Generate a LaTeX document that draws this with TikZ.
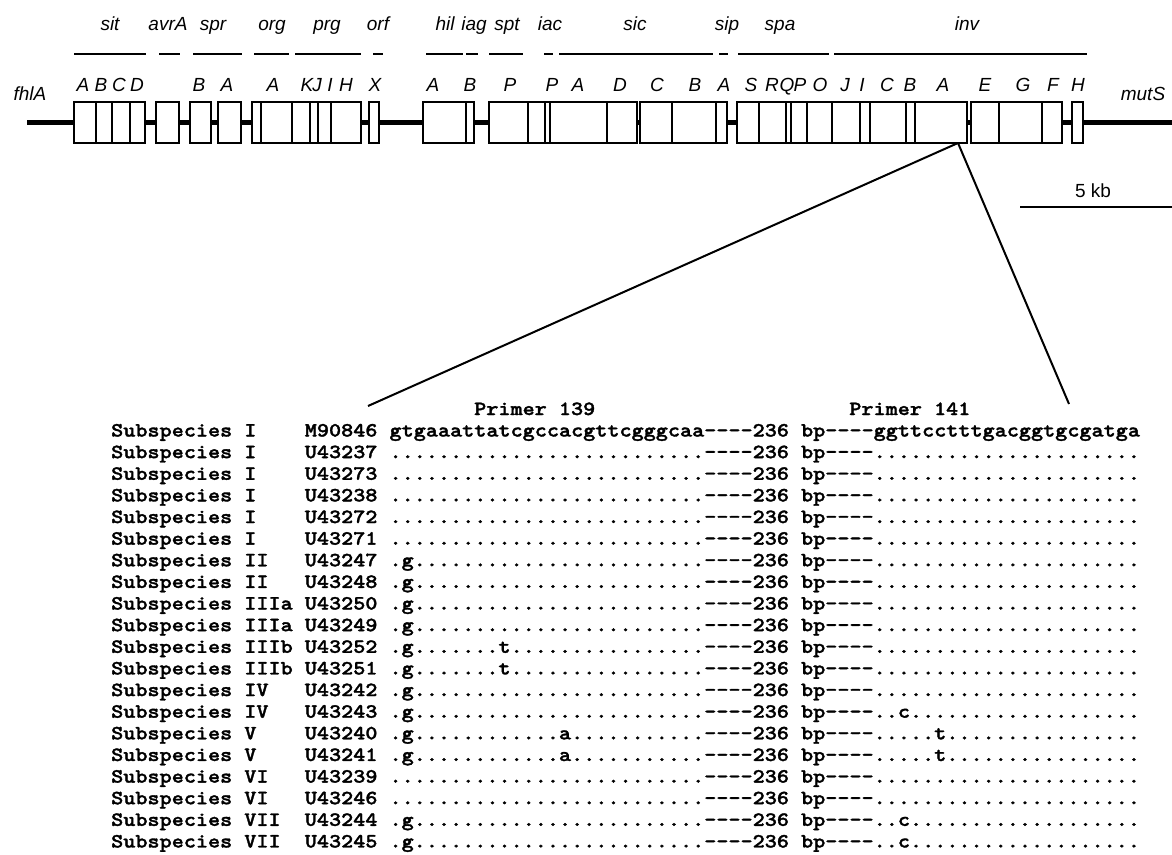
\documentclass[tikz,border=0pt]{standalone}
\usepackage{fontspec}
\newfontfamily\arial{Liberation Sans}
\newfontfamily\seqfont{lmmonolt10-bold.otf}[FakeStretch=1.143, FakeBold=1.6, Ligatures=TeXOff]
\frenchspacing
\def\dten{..........}
\def\Da{\dten\dten......}
\def\Db{\dten\dten..}
\def\Ga{.g\dten\dten....}
\def\Ta{.g.......t\dten......}
\def\Aa{.g............a\dten.}
\def\Cb{..c\dten.........}
\def\Tb{.....t\dten......}
\def\cw{12.1}
\newcommand\gbox[3]{\node[genebox, minimum width={(#3-#2)*1pt}] (#1) at ({(#2+#3)/2},122.5) {};}
\tikzset{
  genebox/.style={draw, line width=2.7pt, minimum height=41pt, inner sep=0pt, outer sep=0pt},
  backbone/.style={line width=4.2pt},
  gline/.style={line width=2pt},
  zoomline/.style={line width=2pt},
  hdr/.style={font=\arial\itshape\fontsize{19}{20}\selectfont, inner sep=0pt, anchor=base},
  lab/.style={font=\arial\itshape\fontsize{19}{20}\selectfont, inner sep=0pt, anchor=base},
  kb/.style={font=\arial\fontsize{19}{20}\selectfont, inner sep=0pt, anchor=base},
  seq/.style={font=\seqfont\fontsize{20.17}{21}\selectfont, inner sep=0pt, anchor=base west}
}
\begin{document}
\begin{tikzpicture}[x=1pt,y=-1pt]
\useasboundingbox (0,0) rectangle (1172,854);
\fill[white] (0,0) rectangle (1172,854);
% header gene names
\foreach \x/\t [count=\k] in {110/sit,168/avrA,213/spr,272/org,327/prg,378/orf,445/hil,474/iag,507/spt,550/iac,635/sic,727/sip,780/spa,967/inv}
  \node[hdr] (h\k) at (\x,30) {\t};
\foreach \a/\b in {74/146,159/180,193/242,254/289,295/361,373/383,426/463,466/478,489/523,544/553,559/713,719/728,738/829,834/1087}
  \draw[gline] (\a,54) -- (\b,54);
% gene letters
\foreach \x/\t [count=\k] in {83/A,101/B,119/C,137/D,199/B,227/A,273/A,307/K,317/J,330/I,346/H,375/X,433/A,470/B,510/P,552/P,578/A,620/D,657/C,695/B,724/A,751/S,772/R,787/Q,800/P,820/O,845/J,862/I,887/C,910/B,943/A,985/E,1023/G,1053/F,1078/H}
  \node[lab] (g\k) at (\x,91) {\t};
\node[lab] (fhlA) at (30,100) {fhlA};
\node[lab] (mutS) at (1143,100) {mutS};
% gene boxes
\gbox{sitA}{74}{96}\gbox{sitB}{96}{112}\gbox{sitC}{112}{130}\gbox{sitD}{130}{145}
\gbox{avrA}{156}{179}
\gbox{sprB}{190}{211}
\gbox{sprA}{218}{241}
\gbox{orgB}{252}{261}\gbox{orgA}{261}{292}\gbox{prgK}{292}{310}\gbox{prgJ}{310}{318}\gbox{prgI}{318}{331}\gbox{prgH}{331}{361}
\gbox{orfX}{369}{379}
\gbox{hilA}{423}{466}\gbox{iagB}{466}{474}
\gbox{sptP}{489}{528}\gbox{sptX}{528}{545}\gbox{iacP}{545}{550}\gbox{sicA}{550}{607}\gbox{sicD}{607}{637}
\gbox{sicC}{640}{672}\gbox{sicB}{672}{716}\gbox{sipA}{716}{727}
\gbox{spaS}{737}{759}\gbox{spaR}{759}{786}\gbox{spaQ}{786}{791}\gbox{spaP}{791}{807}\gbox{spaO}{807}{832}\gbox{invJ}{832}{860}\gbox{invI}{860}{870}\gbox{invC}{870}{906}\gbox{invB}{906}{915}\gbox{invA}{915}{967}
\gbox{invE}{971}{999}\gbox{invG}{999}{1042}\gbox{invF}{1042}{1062}
\gbox{invH}{1072}{1083}
% backbone
\coordinate (bbL) at (27,122.5);
\coordinate (bbR) at (1172,122.5);
\draw[backbone] (bbL) -- (sitA.west);
\draw[backbone] (sitD.east) -- (avrA.west);
\draw[backbone] (avrA.east) -- (sprB.west);
\draw[backbone] (sprB.east) -- (sprA.west);
\draw[backbone] (sprA.east) -- (orgB.west);
\draw[backbone] (prgH.east) -- (orfX.west);
\draw[backbone] (orfX.east) -- (hilA.west);
\draw[backbone] (iagB.east) -- (sptP.west);
\draw[backbone] (sicD.east) -- (sicC.west);
\draw[backbone] (sipA.east) -- (spaS.west);
\draw[backbone] (invA.east) -- (invE.west);
\draw[backbone] (invF.east) -- (invH.west);
\draw[backbone] (invH.east) -- (bbR);
% scale bar
\node[kb] (kb5) at (1093,197) {5 kb};
\coordinate (sbL) at (1020,207);
\coordinate (sbR) at (1172,207);
\draw[line width=2.5pt] (sbL) -- (sbR);
% zoom lines
\coordinate (zt) at ([xshift=17pt]invA.south);
\coordinate (zl) at (368,406);
\coordinate (zr) at (1069,404);
\draw[zoomline] (zt) -- (zl);
\draw[zoomline] (zt) -- (zr);
% alignment
\node[seq] (p139) at ({111+30*\cw},415) {Primer~139};
\node[seq] (p141) at ({111+61*\cw},415) {Primer~141};
\foreach \i/\nm/\acc/\sa/\sb in {
 1/I~~~~/M90846/gtgaaattatcgccacgttcgggcaa/ggttcctttgacggtgcgatga,
 2/I~~~~/U43237/\Da/\Db,
 3/I~~~~/U43273/\Da/\Db,
 4/I~~~~/U43238/\Da/\Db,
 5/I~~~~/U43272/\Da/\Db,
 6/I~~~~/U43271/\Da/\Db,
 7/II~~~/U43247/\Ga/\Db,
 8/II~~~/U43248/\Ga/\Db,
 9/IIIa~/U43250/\Ga/\Db,
 10/IIIa~/U43249/\Ga/\Db,
 11/IIIb~/U43252/\Ta/\Db,
 12/IIIb~/U43251/\Ta/\Db,
 13/IV~~~/U43242/\Ga/\Db,
 14/IV~~~/U43243/\Ga/\Cb,
 15/V~~~~/U43240/\Aa/\Tb,
 16/V~~~~/U43241/\Aa/\Tb,
 17/VI~~~/U43239/\Da/\Db,
 18/VI~~~/U43246/\Da/\Db,
 19/VII~~/U43244/\Ga/\Cb,
 20/VII~~/U43245/\Ga/\Cb}
  \node[seq] (r\i) at (111,{436.5+(\i-1)*21.63}) {Subspecies~\nm\acc~\sa----236~bp----\sb};
\end{tikzpicture}
\end{document}
